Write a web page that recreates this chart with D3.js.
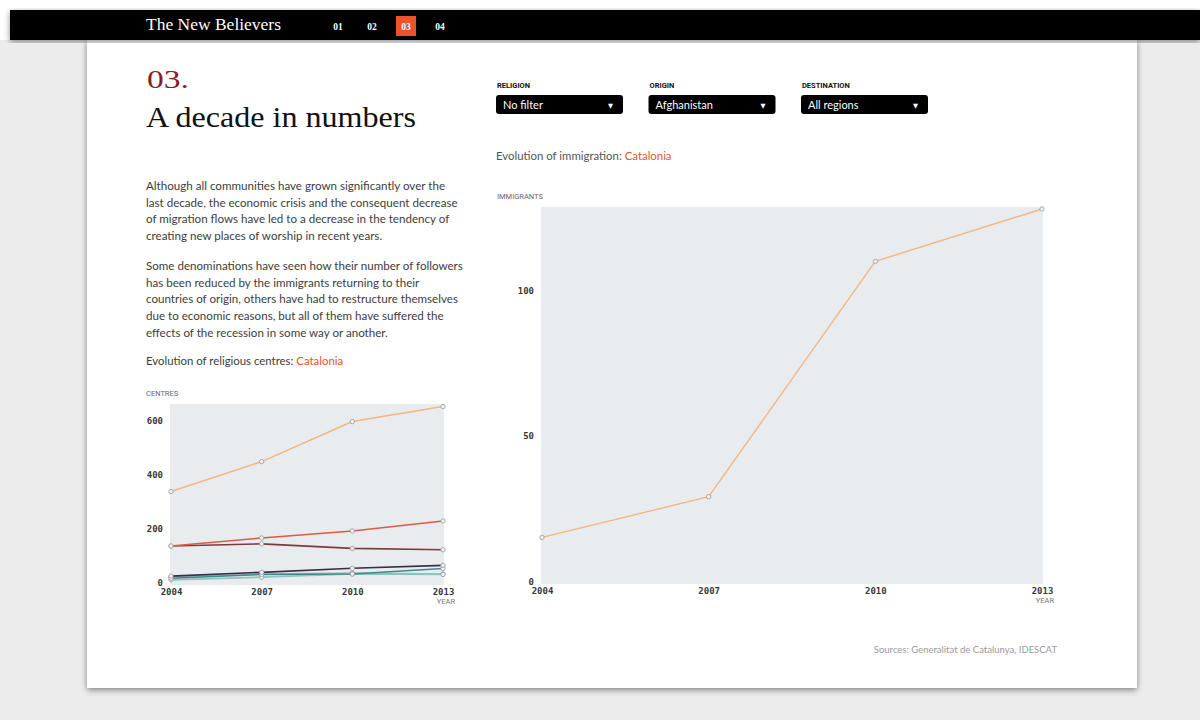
<!DOCTYPE html>
<html>
<head>
<meta charset="utf-8">
<script src="https://d3js.org/d3.v7.min.js"></script>
<style>
  html, body { margin: 0; padding: 0; background: #ececec; }
  svg { display: block; }
</style>
</head>
<body>
<svg id="svg" width="1200" height="720"></svg>
<script>
// chart data
var years = [2004, 2007, 2010, 2013];
var centresBuddhist = [337, 448, 597, 653];
var centresRed = [134, 164, 190, 227];
var centresBrown = [134, 142, 125, 120];
var centresPurple = [22, 36, 51, 62];
var centresTeal = [14, 28, 30, 50];
var centresLightTeal = [8, 18, 30, 28];
var centresGrey = [18, 30, 33, 30];
var immigrants = [15, 29, 110, 128];
var centreTicks = [0, 200, 400, 600];
var immigrantTicks = [0, 50, 100];
var navItems = ["01", "02", "03", "04"];

var centreSeries = [
    {values: centresGrey, color: "#a7b4b8"},
    {values: centresLightTeal, color: "#8cc4c2"},
    {values: centresTeal, color: "#3f8b8a"},
    {values: centresPurple, color: "#3a2d44"},
    {values: centresBrown, color: "#7f3a3e"},
    {values: centresRed, color: "#dd5a45"},
    {values: centresBuddhist, color: "#f2b681"}
];

var para1 = [
    "Although all communities have grown significantly over the",
    "last decade, the economic crisis and the consequent decrease",
    "of migration flows have led to a decrease in the tendency of",
    "creating new places of worship in recent years."
];
var para2 = [
    "Some denominations have seen how their number of followers",
    "has been reduced by the immigrants returning to their",
    "countries of origin, others have had to restructure themselves",
    "due to economic reasons, but all of them have suffered the",
    "effects of the recession in some way or another."
];
var dropdowns = [
    {label: "RELIGION", value: "No filter"},
    {label: "ORIGIN", value: "Afghanistan"},
    {label: "DESTINATION", value: "All regions"}
];

var serif = "'Liberation Serif', 'DejaVu Serif', serif";
var sans = "Lato, 'Open Sans', sans-serif";
var mono = "'DejaVu Sans Mono', monospace";
var orange = "#e9542c";

var svg = d3.select("#svg");
var defs = svg.append("defs");
var f = defs.append("filter").attr("id", "shadow")
    .attr("x", "-5%").attr("y", "-5%").attr("width", "110%").attr("height", "115%");
f.append("feDropShadow").attr("dx", 0).attr("dy", 2).attr("stdDeviation", 3)
    .attr("flood-color", "#000").attr("flood-opacity", 0.45);

// page frame
svg.append("rect").attr("x", 0).attr("y", 0).attr("width", 1200).attr("height", 10).attr("fill", "#fff");
svg.append("rect").attr("x", 0).attr("y", 0).attr("width", 10).attr("height", 40).attr("fill", "#fff");
svg.append("rect").attr("x", 87).attr("y", 40).attr("width", 1050).attr("height", 648)
    .attr("fill", "#fff").attr("filter", "url(#shadow)");
svg.append("rect").attr("x", 10).attr("y", 10).attr("width", 1190).attr("height", 30)
    .attr("fill", "#000").attr("filter", "url(#shadow)");

svg.append("text").attr("x", 146).attr("y", 30)
    .text("The New Believers")
    .attr("font-family", serif).attr("font-size", "17px").attr("fill", "#fff")
    .attr("textLength", 135).attr("lengthAdjust", "spacingAndGlyphs");

var navX = d3.scalePoint().domain(navItems).range([338, 440]);
var nav = svg.selectAll(".nav").data(navItems).enter().append("g");
nav.filter(function (d) { return d == "03"; }).append("rect")
    .attr("x", function (d) { return navX(d) - 10; }).attr("y", 16)
    .attr("width", 20).attr("height", 20).attr("fill", orange);
nav.append("text")
    .attr("x", function (d) { return navX(d); }).attr("y", 29.5)
    .attr("text-anchor", "middle")
    .attr("font-family", serif).attr("font-weight", "bold").attr("font-size", "9.5px")
    .attr("fill", "#fff").text(function (d) { return d; });

// heading
svg.append("text").attr("x", 147).attr("y", 88).text("03.")
    .attr("font-family", serif).attr("font-size", "26px").attr("fill", "#8b1c1f")
    .attr("textLength", 42).attr("lengthAdjust", "spacingAndGlyphs");
svg.append("text").attr("x", 146).attr("y", 127).text("A decade in numbers")
    .attr("font-family", serif).attr("font-size", "29px").attr("fill", "#111")
    .attr("textLength", 270).attr("lengthAdjust", "spacingAndGlyphs");

function paragraph(lines, y0) {
    svg.selectAll(null).data(lines).enter().append("text")
        .attr("x", 146).attr("y", function (d, i) { return y0 + i * 16.7; })
        .text(function (d) { return d; })
        .attr("font-family", sans).attr("font-size", "11.6px").attr("fill", "#3d3d3d");
}
paragraph(para1, 190);
paragraph(para2, 270);

var ev1 = svg.append("text").attr("x", 146).attr("y", 365)
    .attr("font-family", sans).attr("font-size", "11.4px").attr("fill", "#3d3d3d");
ev1.append("tspan").text("Evolution of religious centres: ");
ev1.append("tspan").attr("fill", orange).text("Catalonia");

// dropdowns
var ddX = d3.scalePoint().domain(dropdowns.map(function (d) { return d.label; })).range([496, 801]);
var dd = svg.selectAll(".dd").data(dropdowns).enter().append("g")
    .attr("transform", function (d) { return "translate(" + ddX(d.label) + ",0)"; });
dd.append("text").attr("x", 1).attr("y", 88).text(function (d) { return d.label; })
    .attr("font-family", "'Roboto', sans-serif").attr("font-weight", "bold")
    .attr("font-size", "7.5px").attr("fill", "#111");
dd.append("rect").attr("x", 0).attr("y", 95).attr("width", 127).attr("height", 19).attr("rx", 3)
    .attr("fill", "#000");
dd.append("text").attr("x", 7).attr("y", 108.5).text(function (d) { return d.value; })
    .attr("font-family", sans).attr("font-size", "11px").attr("fill", "#fff");
dd.append("text").attr("x", 112).attr("y", 108).text("\u25BC")
    .attr("font-family", "'DejaVu Sans', sans-serif").attr("font-size", "6.5px").attr("fill", "#fff");

var ev2 = svg.append("text").attr("x", 496).attr("y", 160)
    .attr("font-family", sans).attr("font-size", "11.4px").attr("fill", "#555");
ev2.append("tspan").text("Evolution of immigration: ");
ev2.append("tspan").attr("fill", orange).text("Catalonia");

// chart builder
function lineChart(opt) {
    var g = svg.append("g");
    var x = d3.scaleLinear().domain([years[0], years[years.length - 1]]).range([opt.x0, opt.x1]);
    var y = d3.scaleLinear().domain([0, opt.ymax]).range([opt.y0, opt.y1]);

    g.append("rect").attr("x", opt.x0 - 1).attr("y", opt.y1 - 2)
        .attr("width", opt.x1 - opt.x0 + 2).attr("height", opt.y0 - opt.y1 + 5)
        .attr("fill", "#e9ecef");

    g.append("text").attr("x", opt.labelX).attr("y", opt.y1 - 10).text(opt.ylabel)
        .attr("font-family", "'Roboto', sans-serif").attr("font-size", "7.5px").attr("fill", "#666");

    var yAxis = d3.axisLeft(y).tickValues(opt.ticks).tickSize(0).tickPadding(0);
    var ya = g.append("g").attr("transform", "translate(" + (opt.x0 - 8) + ",0)").call(yAxis);
    var xAxis = d3.axisBottom(x).tickValues(years).tickFormat(d3.format("d")).tickSize(0).tickPadding(0);
    var xa = g.append("g").attr("transform", "translate(0," + (opt.y0 + 7) + ")").call(xAxis);
    [ya, xa].forEach(function (a) {
        a.select(".domain").remove();
        a.selectAll("text").attr("font-family", mono).attr("font-size", "9px")
            .attr("font-weight", "bold").attr("fill", "#383838");
    });
    ya.selectAll("text").attr("dy", "0.35em");
    xa.selectAll("text").attr("dy", "0.71em");

    g.append("text").attr("x", opt.x1 + 12).attr("y", opt.y0 + 22).attr("text-anchor", "end")
        .text("YEAR").attr("font-family", "'Roboto', sans-serif").attr("font-size", "7.5px").attr("fill", "#777");

    var line = d3.line().x(function (d, i) { return x(years[i]); }).y(function (d) { return y(d); });
    opt.series.forEach(function (s) {
        g.append("path").datum(s.values).attr("d", line)
            .attr("fill", "none").attr("stroke", s.color).attr("stroke-width", opt.sw);
        g.selectAll(null).data(s.values).enter().append("circle")
            .attr("cx", function (d, i) { return x(years[i]); })
            .attr("cy", function (d) { return y(d); })
            .attr("r", 2.2).attr("fill", "#eef0f2").attr("stroke", "#999").attr("stroke-width", 0.8);
    });
}

lineChart({
    x0: 171, x1: 443, y0: 582, y1: 406, ymax: 655, ticks: centreTicks,
    labelX: 146, ylabel: "CENTRES", series: centreSeries, sw: 1.6
});

lineChart({
    x0: 542, x1: 1042, y0: 581, y1: 209, ymax: 128, ticks: immigrantTicks,
    labelX: 497, ylabel: "IMMIGRANTS", series: [{values: immigrants, color: "#f2b681"}], sw: 1.4
});

svg.append("text").attr("x", 1057).attr("y", 653).attr("text-anchor", "end")
    .text("Sources: Generalitat de Catalunya, IDESCAT")
    .attr("font-family", sans).attr("font-size", "9.5px").attr("fill", "#9a9a9a");
</script>
</body>
</html>
